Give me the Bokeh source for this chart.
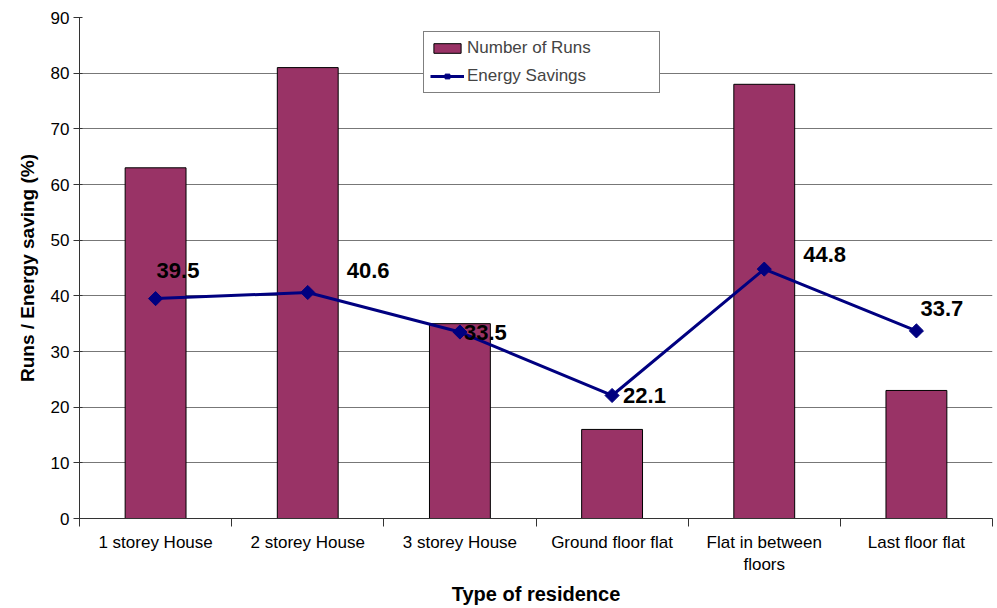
import math
from bokeh.plotting import figure
from bokeh.models import ColumnDataSource, FixedTicker, Legend, LegendItem, Range1d
from bokeh.core.properties import value
from bokeh.embed import file_html
from bokeh.resources import INLINE

categories = ["1 storey House", "2 storey House", "3 storey House",
              "Ground floor flat", "Flat in between\nfloors", "Last floor flat"]
runs = [63, 81, 35, 16, 78, 23]
savings = [39.5, 40.6, 33.5, 22.1, 44.8, 33.7]
y_ticks = [0, 10, 20, 30, 40, 50, 60, 70, 80, 90]

# label placement (screen px, style only)
label_dx = [1, 39, 4, 11, 39, 4]
label_dy = [-28, -22, 0, 0, -15, -22]

xs = [i + 0.5 for i in range(len(categories))]
src = ColumnDataSource(dict(x=xs, runs=runs, savings=savings,
                            lbl=[f"{v:.1f}" for v in savings],
                            dx=label_dx, dy=label_dy))

FONT = "Liberation Sans"

p = figure(width=995, height=608, output_backend="svg", toolbar_location=None,
           x_range=Range1d(0, len(categories)), y_range=Range1d(0, 90),
           min_border_left=79, min_border_right=3, min_border_top=17, min_border_bottom=90)
p.outline_line_color = None
p.background_fill_color = "white"

bars = p.vbar(x="x", top="runs", width=0.4, source=src,
              fill_color="#993366", line_color="black", line_width=1)
line = p.line(x="x", y="savings", source=src, line_color="#000080", line_width=3)
pts = p.scatter(x="x", y="savings", source=src, marker="square", size=10,
                angle=math.pi / 4, fill_color="#000080", line_color="#000080")
p.text(x="x", y="savings", text="lbl", source=src, x_offset="dx", y_offset="dy",
       text_font=value(FONT), text_font_size="22px", text_font_style="bold",
       text_align="left", text_baseline="middle", text_color="black")

# axes
p.xaxis.ticker = FixedTicker(ticks=xs, minor_ticks=list(range(len(categories) + 1)))
p.xaxis.major_label_overrides = {x: c for x, c in zip(xs, categories)}
p.xaxis.major_tick_out = 0
p.xaxis.major_tick_in = 0
p.xaxis.minor_tick_out = 8
p.xaxis.minor_tick_in = 0
p.xaxis.minor_tick_line_color = "#333333"
p.xaxis.axis_label = "Type of residence"
p.yaxis.ticker = FixedTicker(ticks=y_ticks)
p.yaxis.minor_tick_line_color = None
p.yaxis.major_tick_out = 6
p.yaxis.major_tick_in = 3
p.yaxis.axis_label = "Runs / Energy saving (%)"
for ax in (p.xaxis, p.yaxis):
    ax.axis_line_color = "#333333"
    ax.major_tick_line_color = "#333333"
    ax.major_label_text_font = FONT
    ax.major_label_text_font_size = "17px"
    ax.major_label_text_color = "black"
    ax.axis_label_text_font = FONT
    ax.axis_label_text_font_style = "bold"
    ax.axis_label_text_color = "black"
p.xaxis.axis_label_text_font_size = "20px"
p.yaxis.axis_label_text_font_size = "19px"
p.xaxis.major_label_standoff = 6
p.xaxis.axis_label_standoff = 6
p.yaxis.major_label_standoff = 4
p.yaxis.axis_label_standoff = 10

p.xgrid.grid_line_color = None
p.ygrid.ticker = FixedTicker(ticks=y_ticks)
p.ygrid.grid_line_color = "#777777"
p.ygrid.grid_line_width = 1

legend = Legend(items=[LegendItem(label="Number of Runs", renderers=[bars]),
                       LegendItem(label="Energy Savings", renderers=[line, pts])],
                location=(344, 425))
legend.border_line_color = "black"
legend.border_line_width = 1
legend.background_fill_color = "white"
legend.background_fill_alpha = 1
legend.label_text_font = FONT
legend.label_text_font_size = "17px"
legend.glyph_width = 34
legend.glyph_height = 12
legend.spacing = 8
legend.padding = 6
legend.margin = 0
legend.label_standoff = 3
legend.label_width = 186
p.add_layout(legend, "center")

open("out.html", "w").write(file_html(p, INLINE))
